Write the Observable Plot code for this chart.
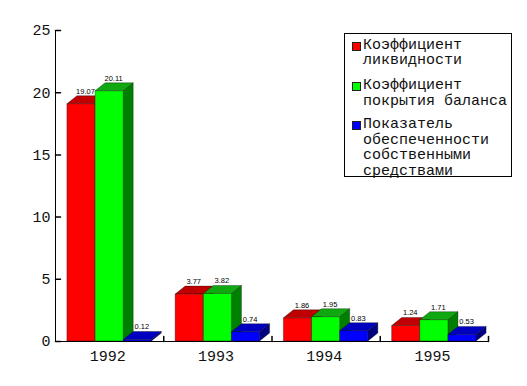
<!DOCTYPE html>
<html>
<head>
<meta charset="utf-8">
<script src="https://cdn.jsdelivr.net/npm/d3@7"></script>
<script src="https://cdn.jsdelivr.net/npm/@observablehq/plot@0.6"></script>
<style>
  body { margin: 0; background: #fff; }
  #wrap { position: relative; width: 527px; height: 386px; }
  #legend {
    position: absolute; left: 344px; top: 33px; width: 166px; height: 142px;
    border: 1px solid #000; background: #fff; box-sizing: content-box;
    font-family: "Liberation Mono", monospace; font-size: 15px; color: #111;
  }
  .item { position: absolute; left: 18px; line-height: 15.7px; white-space: pre; }
  .sw { position: absolute; left: -11px; top: 4px; width: 7px; height: 7px; border: 1px solid #222; }
</style>
</head>
<body>
<div id="wrap"></div>
<script>
const years = ["1992", "1993", "1994", "1995"];
const liquidity = [19.07, 3.77, 1.86, 1.24];
const coverage = [20.11, 3.82, 1.95, 1.71];
const equity = [0.12, 0.74, 0.83, 0.53];
const seriesNames = [
  ["Коэффициент", "ликвидности"],
  ["Коэффициент", "покрытия баланса"],
  ["Показатель", "обеспеченности", "собственными", "средствами"]
];
const yTicks = [0, 5, 10, 15, 20, 25];

const seriesValues = [liquidity, coverage, equity];
const palette = [
  {front: "#ff0000", top: "#c00000", side: "#800000"},
  {front: "#00ff00", top: "#10a810", side: "#008000"},
  {front: "#0000ff", top: "#0000c0", side: "#000080"}
];

const groupOffset = 0.11, barWidth = 0.26, depthX = 10, depthY = 8;

function rowsFor(s) {
  return seriesValues[s].map((v, i) => ({
    i, s, value: v,
    x1: i + groupOffset + barWidth * s,
    x2: i + groupOffset + barWidth * (s + 1),
    xc: i + groupOffset + barWidth * (s + 0.5)
  }));
}

function box3d(col) {
  return (index, scales, values) => {
    const g = d3.create("svg:g");
    for (const k of index) {
      const x1 = values.x1[k], x2 = values.x2[k], y0 = values.y1[k], yt = values.y2[k];
      const st = {"stroke": "#000", "stroke-opacity": 0.55, "stroke-width": 0.6, "stroke-linejoin": "round"};
      const side = g.append("path")
        .attr("d", `M${x2},${yt}L${x2 + depthX},${yt - depthY}L${x2 + depthX},${y0 - depthY}L${x2},${y0}Z`)
        .attr("fill", col.side);
      const top = g.append("path")
        .attr("d", `M${x1},${yt}L${x1 + depthX},${yt - depthY}L${x2 + depthX},${yt - depthY}L${x2},${yt}Z`)
        .attr("fill", col.top);
      const front = g.append("rect")
        .attr("x", x1).attr("y", yt).attr("width", x2 - x1).attr("height", y0 - yt)
        .attr("fill", col.front);
      for (const el of [side, top, front]) for (const [a, b] of Object.entries(st)) el.attr(a, b);
    }
    return g.node();
  };
}

const tickShape = {draw(context, l) { context.moveTo(0, 0); context.lineTo(0, -l); }};
const fmt = d3.format(".2f");

const marks = [];
marks.push(Plot.ruleX([0], {y1: 0, y2: 25, stroke: "#000"}));
marks.push(Plot.ruleY([0], {x1: 0, x2: 4, stroke: "#000"}));
marks.push(Plot.vector(yTicks, {x: 0, y: d => d, length: 5, rotate: 90, anchor: "start", shape: tickShape, stroke: "#000"}));
marks.push(Plot.vector([1, 2, 3, 4], {x: d => d, y: 0, length: 5, rotate: 0, anchor: "start", shape: tickShape, stroke: "#000"}));
for (let s = 0; s < 3; s++) {
  marks.push(Plot.rect(rowsFor(s), {x1: "x1", x2: "x2", y1: 0, y2: "value", render: box3d(palette[s])}));
}
for (let s = 0; s < 3; s++) {
  marks.push(Plot.text(rowsFor(s), {
    x: "xc", y: "value", text: d => fmt(d.value), dx: 4, dy: -13,
    fontFamily: "Liberation Sans, Arial, sans-serif", fontSize: 7.5, fill: "#000"
  }));
}
marks.push(Plot.axisY({ticks: yTicks, tickSize: 0, tickPadding: 5, label: null, tickFormat: d => String(d)}));
marks.push(Plot.axisX({ticks: [0.5, 1.5, 2.5, 3.5], tickFormat: d => years[Math.floor(d)], tickSize: 0, tickPadding: 9, label: null, dx: -2}));

const chart = Plot.plot({
  width: 527,
  height: 386,
  marginLeft: 55,
  marginRight: 39,
  marginTop: 30,
  marginBottom: 45,
  x: {type: "linear", domain: [0, 4], axis: null},
  y: {type: "linear", domain: [0, 25], axis: null},
  style: {fontFamily: "Liberation Mono, monospace", fontSize: "15px", color: "#111", background: "#fff", overflow: "visible"},
  marks
});

const wrap = document.getElementById("wrap");
wrap.appendChild(chart);

const legend = document.createElement("div");
legend.id = "legend";
const tops = [3.5, 44, 83];
seriesNames.forEach((lines, s) => {
  const item = document.createElement("div");
  item.className = "item";
  item.style.top = tops[s] + "px";
  item.textContent = lines.join("\n");
  const sw = document.createElement("span");
  sw.className = "sw";
  sw.style.background = palette[s].front;
  item.appendChild(sw);
  legend.appendChild(item);
});
wrap.appendChild(legend);
</script>
</body>
</html>
